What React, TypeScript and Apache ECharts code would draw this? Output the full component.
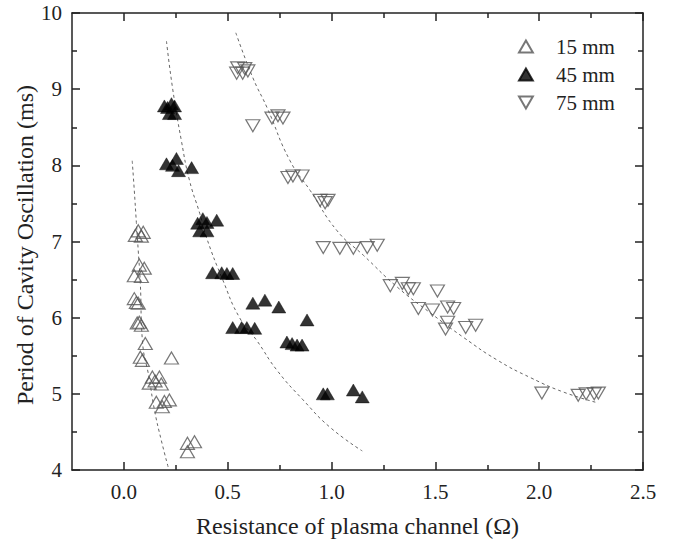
import React, { useEffect, useRef } from "react";
import * as echarts from "echarts";

const seriesNames = ["15 mm", "45 mm", "75 mm"];
const xTitle = "Resistance of plasma channel (Ω)";
const yTitle = "Period of Cavity Oscillation (ms)";

const data15: number[][] = [
  [0.069, 7.14], [0.093, 7.12], [0.055, 7.08], [0.084, 7.07],
  [0.074, 6.69], [0.098, 6.65], [0.050, 6.55], [0.084, 6.54],
  [0.050, 6.25], [0.060, 6.20], [0.069, 6.19],
  [0.074, 5.94], [0.084, 5.90], [0.064, 5.93],
  [0.103, 5.66],
  [0.079, 5.48], [0.089, 5.44],
  [0.229, 5.47],
  [0.137, 5.22], [0.171, 5.22], [0.122, 5.14], [0.180, 5.13], [0.150, 5.17],
  [0.156, 4.89], [0.195, 4.90], [0.219, 4.92], [0.185, 4.83],
  [0.306, 4.35], [0.340, 4.37], [0.306, 4.24],
];

const data45: number[][] = [
  [0.195, 8.78], [0.210, 8.76], [0.229, 8.81], [0.244, 8.78], [0.219, 8.68], [0.244, 8.68],
  [0.205, 8.02], [0.253, 8.09], [0.263, 7.93], [0.326, 7.97], [0.234, 8.00],
  [0.355, 7.24], [0.380, 7.30], [0.400, 7.25], [0.447, 7.28], [0.365, 7.14], [0.400, 7.14],
  [0.427, 6.59], [0.471, 6.59], [0.496, 6.58], [0.524, 6.58],
  [0.621, 6.19], [0.679, 6.23], [0.746, 6.14],
  [0.882, 5.97],
  [0.524, 5.87], [0.567, 5.87], [0.592, 5.87], [0.630, 5.86],
  [0.785, 5.68], [0.810, 5.66], [0.834, 5.64], [0.858, 5.64],
  [0.960, 5.00], [0.980, 5.00],
  [1.105, 5.05], [1.148, 4.96],
];

const data75: number[][] = [
  [0.543, 9.21], [0.572, 9.21], [0.597, 9.24], [0.548, 9.28], [0.582, 9.27],
  [0.621, 8.52],
  [0.713, 8.62], [0.742, 8.65], [0.766, 8.62],
  [0.790, 7.84], [0.814, 7.86], [0.858, 7.86],
  [0.945, 7.54], [0.969, 7.51], [0.983, 7.54],
  [0.960, 6.92], [1.040, 6.91], [1.105, 6.91], [1.172, 6.92], [1.220, 6.95],
  [1.283, 6.42], [1.341, 6.45], [1.370, 6.38], [1.394, 6.38],
  [1.510, 6.35],
  [1.418, 6.12], [1.486, 6.10], [1.559, 6.14], [1.588, 6.12],
  [1.559, 5.94], [1.549, 5.85],
  [1.646, 5.87], [1.694, 5.90],
  [2.013, 5.01],
  [2.188, 4.98], [2.226, 5.00], [2.265, 5.00], [2.285, 5.01],
];

const fit15: number[][] = [
  [0.040, 8.06], [0.050, 7.67], [0.060, 7.25], [0.069, 6.88], [0.079, 6.45],
  [0.089, 5.70], [0.122, 5.20], [0.147, 4.79], [0.180, 4.39], [0.217, 4.00],
];

const fit45: number[][] = [
  [0.205, 9.63], [0.234, 9.02], [0.277, 8.32], [0.316, 7.80], [0.365, 7.37],
  [0.398, 7.05], [0.477, 6.49], [0.557, 6.00], [0.640, 5.70], [0.737, 5.31],
  [0.863, 4.92], [0.993, 4.56], [1.148, 4.25],
];

const fit75: number[][] = [
  [0.539, 9.74], [0.621, 9.15], [0.689, 8.76], [0.800, 8.06], [0.897, 7.67],
  [1.027, 7.14], [1.153, 6.82], [1.317, 6.40], [1.477, 6.06], [1.636, 5.74],
  [1.800, 5.44], [1.960, 5.21], [2.120, 5.02], [2.285, 4.88],
];

const xMajor = [0, 0.5, 1.0, 1.5, 2.0, 2.5];
const xMinor = [0.25, 0.75, 1.25, 1.75, 2.25];
const xMin = -0.25;
const xMax = 2.5;
const yMin = 4;
const yMax = 10;

const FONT = "'Liberation Serif', 'Times New Roman', serif";
const INK = "#222";
const OPEN = "#555";
const UP = "path://M5,0 L10,8.66 L0,8.66 Z";
const DOWN = "path://M0,0 L10,0 L5,8.66 Z";

export default function App() {
  const ref = useRef<HTMLDivElement>(null);
  useEffect(() => {
    if (!ref.current) return;
    const chart = echarts.init(ref.current, null, { renderer: "svg" });

    const baseX = (position: string, ticks: number[], len: number, labels: boolean, line: boolean) => ({
      type: "value",
      position,
      min: xMin,
      max: xMax,
      axisLine: { show: line, onZero: false, lineStyle: { color: INK, width: 1.5 } },
      axisTick: { show: true, inside: true, length: len, customValues: ticks, lineStyle: { color: INK, width: 1.5 } },
      axisLabel: labels
        ? { show: true, customValues: ticks, formatter: (v: number) => v.toFixed(1), margin: 11, fontFamily: FONT, fontSize: 21, color: INK }
        : { show: false },
      splitLine: { show: false },
    });

    const baseY = (position: string, labels: boolean) => ({
      type: "value",
      position,
      min: yMin,
      max: yMax,
      interval: 1,
      axisLine: { show: true, onZero: false, lineStyle: { color: INK, width: 1.5 } },
      axisTick: { show: true, inside: true, length: 8, lineStyle: { color: INK, width: 1.5 } },
      minorTick: { show: true, splitNumber: 2, length: 5, lineStyle: { color: INK, width: 1.5 } },
      axisLabel: labels ? { show: true, margin: 10, fontFamily: FONT, fontSize: 21, color: INK } : { show: false },
      splitLine: { show: false },
      minorSplitLine: { show: false },
    });

    const xAxes: any[] = [
      {
        ...baseX("bottom", xMajor, 8, true, true),
        name: xTitle,
        nameLocation: "middle",
        nameGap: 44,
        nameTextStyle: { fontFamily: FONT, fontSize: 24, color: INK },
      },
      baseX("bottom", xMinor, 5, false, false),
      baseX("top", xMajor, 8, false, true),
      baseX("top", xMinor, 5, false, false),
    ];
    const yAxes: any[] = [baseY("left", true), baseY("right", false)];

    const fitStyle = { color: "#666", width: 1, type: [3, 3] };

    chart.setOption({
      animation: false,
      backgroundColor: "#fff",
      grid: { left: 72, right: 35, top: 13, bottom: 74 },
      xAxis: xAxes,
      yAxis: yAxes,
      graphic: [
        {
          type: "text",
          x: 25,
          y: 245,
          rotation: Math.PI / 2,
          style: {
            text: yTitle,
            fontFamily: FONT,
            fontSize: 24,
            fill: INK,
            align: "center",
            verticalAlign: "middle",
          },
        },
      ],
      legend: {
        data: seriesNames,
        orient: "vertical",
        left: 518,
        top: 36,
        padding: 0,
        itemGap: 7,
        itemWidth: 14,
        itemHeight: 12,
        textStyle: { fontFamily: FONT, fontSize: 21, color: INK, padding: [0, 0, 0, 18] },
      },
      series: [
        {
          type: "line", data: fit15, xAxisIndex: 0, yAxisIndex: 0, smooth: true, showSymbol: false,
          lineStyle: fitStyle, silent: true, z: 1,
        },
        {
          type: "line", data: fit45, xAxisIndex: 0, yAxisIndex: 0, smooth: true, showSymbol: false,
          lineStyle: fitStyle, silent: true, z: 1,
        },
        {
          type: "line", data: fit75, xAxisIndex: 0, yAxisIndex: 0, smooth: true, showSymbol: false,
          lineStyle: fitStyle, silent: true, z: 1,
        },
        {
          name: seriesNames[0], type: "scatter", data: data15, symbol: UP, symbolSize: [14, 12],
          itemStyle: { color: "rgba(255,255,255,0)", borderColor: OPEN, borderWidth: 1.2 }, z: 3,
        },
        {
          name: seriesNames[1], type: "scatter", data: data45, symbol: UP, symbolSize: [14, 12],
          itemStyle: { color: "#000", borderColor: "#000", borderWidth: 0.5 }, z: 3,
        },
        {
          name: seriesNames[2], type: "scatter", data: data75, symbol: DOWN, symbolSize: [14, 12],
          itemStyle: { color: "rgba(255,255,255,0)", borderColor: OPEN, borderWidth: 1.2 }, z: 3,
        },
      ],
    });
    return () => chart.dispose();
  }, []);

  return (
    <div
      ref={ref}
      style={{ position: "absolute", left: 0, top: 0, width: 678, height: 544, background: "#fff" }}
    />
  );
}
